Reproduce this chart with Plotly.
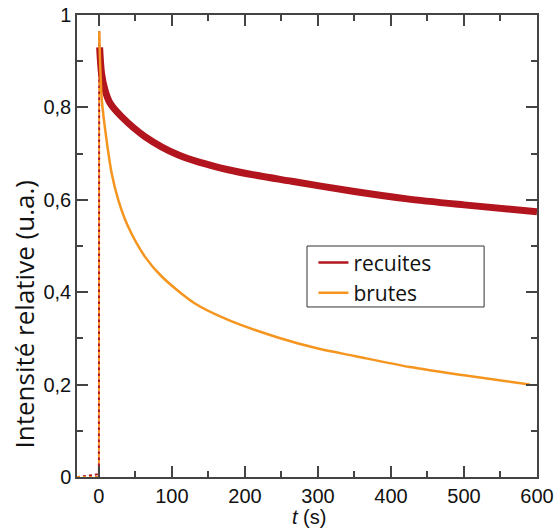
import plotly.graph_objects as go

# Time (s) and relative intensity
t_recuites = [-30, -2, 0, 0.4, 1, 3.6, 8.2, 15, 31, 63, 109, 177, 264, 350, 422, 500, 600]
v_recuites = [0.0, 0.006, 0.006, 0.965, 0.93, 0.874, 0.838, 0.81, 0.78, 0.737, 0.697, 0.665, 0.640, 0.618, 0.602, 0.589, 0.574]

t_brutes = [-30, 0, 0.4, 2, 4, 10.5, 17.4, 26.5, 40, 63, 86, 131, 177, 245, 300, 350, 426, 500, 590]
v_brutes = [0.0, 0.0, 0.965, 0.88, 0.815, 0.729, 0.658, 0.60, 0.542, 0.477, 0.434, 0.376, 0.340, 0.302, 0.278, 0.262, 0.238, 0.220, 0.200]

y_ticks = [0, 0.2, 0.4, 0.6, 0.8, 1]
y_tick_labels = ["0", "0,2", "0,4", "0,6", "0,8", "1"]
x_ticks = [0, 100, 200, 300, 400, 500, 600]

RED = "#B2151E"
ORANGE = "#F5951F"

fig = go.Figure()
# baseline + rise (thin dotted)
fig.add_trace(go.Scatter(x=t_recuites[:4], y=v_recuites[:4], mode="lines", name="recuites",
                         line=dict(color=RED, width=2, dash="dot"), legendgroup="r", showlegend=False))
fig.add_trace(go.Scatter(x=t_brutes[:3], y=v_brutes[:3], mode="lines", name="brutes",
                         line=dict(color=ORANGE, width=2, dash="dot"), legendgroup="b", showlegend=False))
# decay parts
fig.add_trace(go.Scatter(x=t_recuites[4:], y=v_recuites[4:], mode="lines", name="recuites",
                         line=dict(color=RED, width=7, shape="spline", smoothing=0.8),
                         legendgroup="r", showlegend=False))
fig.add_trace(go.Scatter(x=t_brutes[2:], y=v_brutes[2:], mode="lines", name="brutes",
                         line=dict(color=ORANGE, width=2.5, shape="spline", smoothing=0.8),
                         legendgroup="b", showlegend=False))
# legend entries
fig.add_trace(go.Scatter(x=[None], y=[None], mode="lines", name="recuites",
                         line=dict(color=RED, width=2.5), legendgroup="r"))
fig.add_trace(go.Scatter(x=[None], y=[None], mode="lines", name="brutes",
                         line=dict(color=ORANGE, width=2.5), legendgroup="b"))

axis_common = dict(showline=True, linecolor="#444", linewidth=1.5, mirror="ticks",
                   ticks="inside", ticklen=11, tickwidth=1.5, tickcolor="#444",
                   showgrid=False, zeroline=False, automargin=False,
                   tickfont=dict(family="Liberation Sans, Arial", size=20, color="#111"))

fig.update_xaxes(range=[-30, 600], tickvals=x_ticks, **axis_common,
                 minor=dict(dtick=50, ticks="inside", ticklen=6, tickwidth=1.5, tickcolor="#444"))
fig.update_yaxes(range=[0, 1], tickvals=y_ticks, ticktext=y_tick_labels, **axis_common,
                 minor=dict(dtick=0.1, ticks="inside", ticklen=6, tickwidth=1.5, tickcolor="#444"))

fig.add_annotation(text="Intensité relative (u.a.)", xref="paper", yref="paper",
                   x=-0.115, y=0.352, xanchor="center", yanchor="middle", textangle=-90, showarrow=False,
                   font=dict(family="Open Sans", size=26, color="#111"))
fig.add_annotation(text="<i>t</i> (s)", xref="paper", yref="paper",
                   x=0.505, y=-0.087, xanchor="center", yanchor="middle", showarrow=False,
                   font=dict(family="Liberation Sans, Arial", size=20, color="#111"))

# legend frame
fig.add_shape(type="rect", xref="paper", yref="paper", x0=0.5, x1=0.885, y0=0.368, y1=0.5,
              line=dict(color="#333", width=1), fillcolor="white", layer="above")

fig.update_layout(width=556, height=532, margin=dict(l=77, r=19, t=15, b=55),
                  plot_bgcolor="white", paper_bgcolor="white", showlegend=True,
                  legend=dict(x=0.514, y=0.508, xanchor="left", yanchor="top",
                              borderwidth=0, bgcolor="rgba(0,0,0,0)",
                              font=dict(family="Open Sans", size=21, color="#111"),
                              itemwidth=30, tracegroupgap=0))

fig.write_html("out.html", config={"displayModeBar": False},
               post_script="document.body.style.margin='0';")
